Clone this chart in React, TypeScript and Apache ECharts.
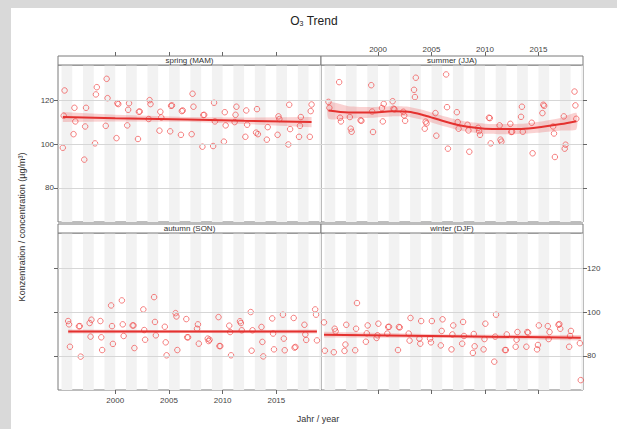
import React, { useEffect, useRef } from "react";
import * as echarts from "echarts";

// ---------- data ----------
const years = [1995, 1996, 1997, 1998, 1999, 2000, 2001, 2002, 2003, 2004, 2005, 2006, 2007, 2008, 2009, 2010, 2011, 2012, 2013, 2014, 2015, 2016, 2017, 2018];
const winterYears = [1995, 1996, 1997, 1998, 1999, 2000, 2001, 2002, 2003, 2004, 2005, 2006, 2007, 2008, 2009, 2010, 2011, 2012, 2013, 2014, 2015, 2016, 2017, 2018, 2019];

// position of each month inside the year (decimal year offset)
const springOffsets = [0.117, 0.2, 0.283]; // Mar Apr May
const summerOffsets = [0.367, 0.45, 0.533]; // Jun Jul Aug
const autumnOffsets = [0.617, 0.7, 0.783]; // Sep Oct Nov
const winterOffsets = [-0.133, -0.05, 0.033]; // Dec(prev) Jan Feb

const springValues: (number | null)[][] = [
  [98.3, 112.9, 124.4], [104.5, 116.5, 110.3], [92.9, 108.0, 116.5], [100.3, 122.6, 125.9],
  [108.3, 129.7, 120.9], [102.7, 118.6, 118.2], [108.5, 115.6, 118.6], [102.3, 114.7, 114.8],
  [111.4, 120.0, 118.2], [106.1, 114.7, 112.1], [105.8, 117.4, 117.6], [104.2, 115.0, 115.3],
  [104.5, 122.9, 117.0], [98.8, 113.2, 113.3], [99.1, 118.8, 110.3], [101.1, 114.5, 108.5],
  [110.0, 113.3, 117.0], [103.3, 115.3, 108.8], [105.2, 115.9, 104.5], [102.0, 107.7, null],
  [104.2, 112.6, 111.4], [99.8, 117.9, 106.8], [103.3, 108.3, 112.3], [103.3, 115.0, 118.0],
];
const summerValues: (number | null)[][] = [
  [119.2, 116.5, null], [128.2, 112.0, 110.3], [112.3, 107.0, 105.6], [110.8, 110.6, null],
  [126.8, 114.8, 105.5], [116.4, 110.3, 118.3], [119.5, 116.1, 115.8], [114.7, 113.0, 110.6],
  [124.7, 121.4, 130.2], [107.0, 110.2, 109.4], [114.1, 103.8, null], [131.7, 116.8, 97.9],
  [114.5, 110.0, 107.0], [108.8, 106.2, 96.5], [107.4, 105.9, 104.2], [112.0, 111.8, 100.3],
  [108.5, 102.0, 101.1], [109.2, 105.5, 105.6], [112.4, 117.0, 105.6], [109.7, 95.8, null],
  [114.1, 117.9, 117.4], [108.0, 104.8, 94.1], [112.6, 97.9, 99.7], [123.9, 117.6, 111.5],
];
const autumnValues: (number | null)[][] = [
  [95.9, 94.4, 84.2], [93.5, 93.6, 79.7], [95.0, 88.8, 96.5], [95.9, 88.5, 82.7],
  [103.0, 93.6, 85.5], [105.3, 94.4, 89.1], [93.9, 93.9, 83.6], [101.2, 91.8, 87.4],
  [106.8, 95.5, 89.4], [93.3, 86.2, 80.3], [99.5, 98.0, 82.7], [96.8, 88.5, 88.5],
  [92.4, 94.4, 85.6], [87.9, 86.8, 87.4], [97.7, 84.5, 84.5], [93.8, 90.9, 80.3],
  [95.8, 95.0, 91.7], [100.0, 82.4, 91.7], [93.2, 86.4, 79.8], [97.1, 90.2, 83.0],
  [98.8, 87.9, 82.6], [97.3, 83.8, 84.1], [94.2, 89.8, 87.3], [101.2, 98.8, 87.1],
];
const winterValues: (number | null)[][] = [
  [null, 95.3, 82.4], [81.7, 92.4, 91.2], [82.3, 85.2, 94.2], [82.6, 92.4, 104.1],
  [86.5, 90.3, 93.9], [88.2, 89.4, 94.7], [90.2, 93.2, 93.3], [82.7, 93.2, 93.0],
  [90.2, 87.0, 97.3], [87.9, 85.6, 95.9], [87.9, 86.2, 95.9], [84.8, 91.4, 96.7],
  [83.0, 89.8, 93.9], [85.6, 95.5, 89.1], [81.4, 90.0, 84.4], [83.0, 87.7, 94.7],
  [77.4, 88.8, 98.8], [82.7, 82.7, 89.8], [84.2, 87.4, 90.9], [84.2, 90.9, 90.6],
  [83.0, 85.0, 93.9], [93.6, 87.7, 90.9], [94.2, 94.5, 92.4], [84.2, 89.1, 91.4],
  [85.8, 69.0, null],
];

// smoothed trend + confidence half-width
const springTrendX = [1995.12, 2000.0, 2006.7, 2012.0, 2018.28];
const springFit = [112.3, 111.8, 111.2, 110.6, 110.0];
const springHalf = [2.3, 1.5, 1.1, 1.5, 2.3];

const summerTrendX = [1995.37, 1997.22, 1999.4, 2001.26, 2002.82, 2004.37, 2005.93, 2007.48, 2008.73, 2009.97, 2011.52, 2013.39, 2015.25, 2017.12, 2018.53];
const summerFit = [115.3, 114.4, 114.4, 114.9, 114.7, 113.0, 110.7, 108.7, 107.6, 107.0, 106.8, 106.9, 107.8, 109.1, 110.4];
const summerHalf = [3.8, 2.8, 2.4, 2.3, 2.3, 2.3, 2.3, 2.3, 2.3, 2.3, 2.3, 2.3, 2.5, 2.9, 3.8];

const autumnTrendX = [1995.62, 2007.2, 2018.78];
const autumnFit = [91.1, 91.1, 91.1];
const autumnHalf = [0.9, 0.6, 0.9];

const winterTrendX = [1994.95, 2007.0, 2018.95];
const winterFit = [89.7, 89.0, 88.3];
const winterHalf = [1.3, 0.8, 1.3];

const xMin = 1994.67;
const xMax = 2019.16;
const yMin = 64.5;
const yMax = 136;
const xTicks = [2000, 2005, 2010, 2015];
const yTicks = [80, 100, 120];
const stripeYears = [1995, 1997, 1999, 2001, 2003, 2005, 2007, 2009, 2011, 2013, 2015, 2017, 2019];

const panelNames = ["spring (MAM)", "summer (JJA)", "autumn (SON)", "winter (DJF)"];

// ---------- layout ----------
const FONT = "Arial, 'Liberation Sans', sans-serif";
const grids = [
  { left: 58, top: 65, width: 263, height: 157 },
  { left: 321, top: 65, width: 262, height: 157 },
  { left: 58, top: 233, width: 263, height: 157 },
  { left: 321, top: 233, width: 262, height: 157 },
];

function buildPoints(ys: number[], offsets: number[], vals: (number | null)[][]) {
  const out: number[][] = [];
  ys.forEach((y, i) => {
    vals[i].forEach((v, j) => {
      if (v !== null) out.push([y + offsets[j], v]);
    });
  });
  return out;
}

const panels = [
  { pts: buildPoints(years, springOffsets, springValues), tx: springTrendX, fit: springFit, half: springHalf, smooth: false },
  { pts: buildPoints(years, summerOffsets, summerValues), tx: summerTrendX, fit: summerFit, half: summerHalf, smooth: true },
  { pts: buildPoints(years, autumnOffsets, autumnValues), tx: autumnTrendX, fit: autumnFit, half: autumnHalf, smooth: false },
  { pts: buildPoints(winterYears, winterOffsets, winterValues), tx: winterTrendX, fit: winterFit, half: winterHalf, smooth: false },
];

export default function App() {
  const ref = useRef<HTMLDivElement>(null);
  useEffect(() => {
    if (!ref.current) return;
    const chart = echarts.init(ref.current, null, { renderer: "svg" });

    const tickStyle = { show: true, length: 4, lineStyle: { color: "#666", width: 1 } };
    const labelStyle = { color: "#444", fontSize: 8, fontFamily: FONT };

    const xAxes = grids.map((_, i) => ({
      type: "value",
      gridIndex: i,
      min: xMin,
      max: xMax,
      position: i < 2 ? "top" : "bottom",
      offset: i < 2 ? 9 : 0,
      axisLine: { show: false },
      splitLine: { show: false },
      axisTick: { ...tickStyle, customValues: xTicks },
      axisLabel: {
        show: i === 1 || i === 2,
        customValues: xTicks,
        margin: i < 2 ? 3 : 6,
        formatter: (v: number) => String(Math.round(v)),
        ...labelStyle,
      },
    }));

    const yAxes = grids.map((_, i) => ({
      type: "value",
      gridIndex: i,
      min: yMin,
      max: yMax,
      position: i % 2 === 0 ? "left" : "right",
      axisLine: { show: false },
      splitLine: { show: false },
      axisTick: { ...tickStyle, customValues: yTicks },
      axisLabel: {
        show: i === 0 || i === 3,
        customValues: yTicks,
        margin: 4,
        formatter: (v: number) => String(Math.round(v)),
        ...labelStyle,
      },
    }));

    const series: any[] = [];
    panels.forEach((p, i) => {
      // stripes + gridlines
      series.push({
        type: "line",
        xAxisIndex: i,
        yAxisIndex: i,
        data: [],
        silent: true,
        z: 1,
        markArea: {
          silent: true,
          itemStyle: { color: "#f2f2f2" },
          data: stripeYears.map((y) => [{ xAxis: y }, { xAxis: Math.min(y + 1, xMax) }]),
        },
        markLine: {
          silent: true,
          symbol: "none",
          label: { show: false },
          lineStyle: { color: "#d6d6d6", type: "solid", width: 1 },
          data: yTicks.map((v) => ({ yAxis: v })),
        },
      });
      // confidence band (polygon through the upper and lower bounds)
      const bandData = p.tx.map((x, k) => [x, p.fit[k] - p.half[k], p.fit[k] + p.half[k]]);
      series.push({
        type: "custom",
        xAxisIndex: i,
        yAxisIndex: i,
        data: bandData,
        encode: { x: 0, y: [1, 2] },
        silent: true,
        clip: true,
        z: 3,
        renderItem: (params: any, api: any) => {
          if (params.dataIndex !== 0) return null;
          const upper = bandData.map((d) => api.coord([d[0], d[2]]));
          const lower = bandData.map((d) => api.coord([d[0], d[1]])).reverse();
          return {
            type: "polygon",
            shape: { points: upper.concat(lower), smooth: p.smooth ? 0.2 : 0 },
            style: { fill: "rgba(236, 90, 90, 0.27)", stroke: "none" },
          };
        },
      });
      // points
      series.push({
        type: "scatter",
        xAxisIndex: i,
        yAxisIndex: i,
        data: p.pts,
        symbol: "circle",
        symbolSize: 5.5,
        itemStyle: { color: "rgba(0,0,0,0)", borderColor: "rgba(240, 70, 70, 0.85)", borderWidth: 1 },
        silent: true,
        z: 4,
      });
      // fit line
      series.push({
        type: "line",
        xAxisIndex: i,
        yAxisIndex: i,
        data: p.tx.map((x, k) => [x, p.fit[k]]),
        symbol: "none",
        smooth: p.smooth ? 0.3 : false,
        lineStyle: { color: "#e4312f", width: 2 },
        silent: true,
        z: 5,
      });
    });

    const strips = [
      { x: 58, y: 56, w: 263 },
      { x: 321, y: 56, w: 262 },
      { x: 58, y: 224, w: 263 },
      { x: 321, y: 224, w: 262 },
    ];

    const graphic: any[] = [
      { type: "rect", z: -100, silent: true, shape: { x: 11, y: 8, width: 606, height: 421 }, style: { fill: "#ffffff" } },
      ...strips.map((s) => ({
        type: "rect",
        z: 50,
        silent: true,
        shape: { x: s.x, y: s.y, width: s.w, height: 9 },
        style: { fill: "#ffffff", stroke: "#7a7a7a", lineWidth: 1 },
      })),
      ...strips.map((s, i) => ({
        type: "text",
        z: 51,
        silent: true,
        x: s.x + s.w / 2,
        y: s.y + 4.8,
        style: { text: panelNames[i], fill: "#333", fontSize: 8, fontFamily: FONT, align: "center", verticalAlign: "middle" },
      })),
      {
        type: "text",
        z: 51,
        silent: true,
        x: 314,
        y: 19,
        style: {
          text: "{a|O}{s|3}{a| Trend}",
          align: "center",
          verticalAlign: "middle",
          rich: {
            a: { fontSize: 12, fontFamily: FONT, fill: "#222", verticalAlign: "bottom", lineHeight: 15 },
            s: { fontSize: 7, fontFamily: FONT, fill: "#222", verticalAlign: "bottom", lineHeight: 10 },
          },
        },
      },
      {
        type: "text",
        z: 51,
        silent: true,
        x: 22,
        y: 227,
        rotation: Math.PI / 2,
        style: { text: "Konzentration / concentration (µg/m³)", fill: "#333", fontSize: 9, fontFamily: FONT, align: "center", verticalAlign: "middle" },
      },
      {
        type: "text",
        z: 51,
        silent: true,
        x: 318,
        y: 419,
        style: { text: "Jahr / year", fill: "#333", fontSize: 9, fontFamily: FONT, align: "center", verticalAlign: "middle" },
      },
    ];

    chart.setOption({
      animation: false,
      backgroundColor: "#d9d9d9",
      grid: grids.map((g) => ({ ...g, show: true, backgroundColor: "#ffffff", borderColor: "#7a7a7a", borderWidth: 1 })),
      xAxis: xAxes,
      yAxis: yAxes,
      series,
      graphic,
    });

    return () => chart.dispose();
  }, []);

  return <div ref={ref} style={{ position: "fixed", left: 0, top: 0, width: 617, height: 429 }} />;
}
